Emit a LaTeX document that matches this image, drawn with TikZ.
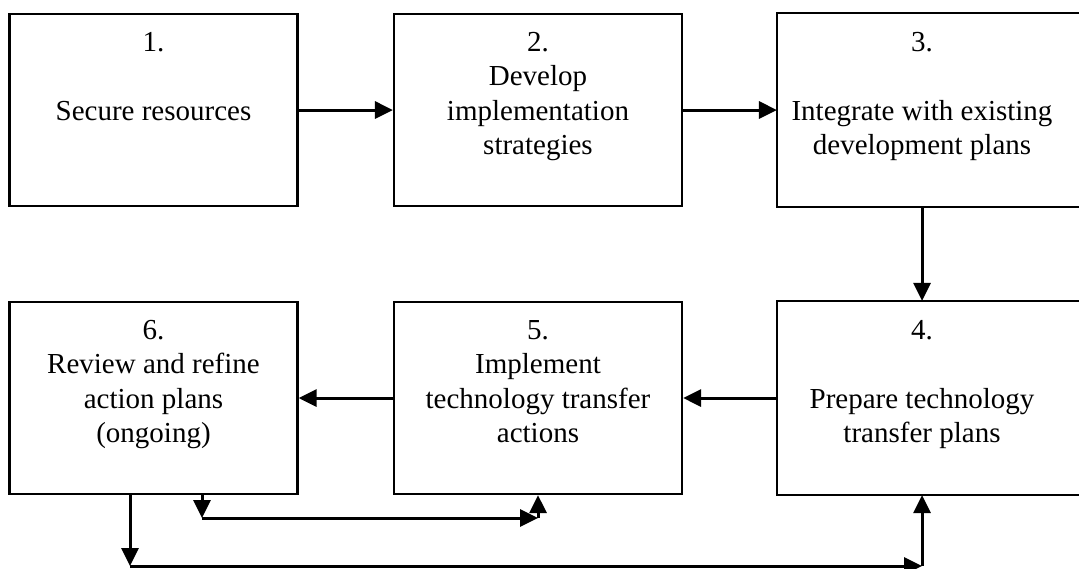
\documentclass[tikz,border=0pt]{standalone}
\usepackage{fontspec}
\setmainfont{Liberation Serif}
\usetikzlibrary{arrows.meta}
\newcommand\boxtext[1]{\parbox[c][166pt][t]{286pt}{\centering\strut #1}}
\begin{document}
\begin{tikzpicture}[x=1pt,y=-1pt,
  box/.style={draw,line width=2.2pt,minimum width=288pt,minimum height=192pt,inner sep=0pt,
    font=\fontsize{29}{34.5}\selectfont},
  openbox/.style={box,draw=none},
  boxline/.style={line width=2.2pt},
  arr/.style={line width=3pt,-{Triangle[length=18pt,width=17pt]}}]
\useasboundingbox (0,0) rectangle (1079,568);
\clip (0,0) rectangle (1079,568);
\fill[white] (0,0) rectangle (1079,568);
% top row
\node[box] (b1) at (153.5,110) {\boxtext{1.\\[34.5pt]Secure resources}};
\node[box] (b2) at (538,110) {\boxtext{2.\\Develop\\implementation\\strategies}};
\node[openbox] (b3) at (922,110) {\boxtext{3.\\[34.5pt]Integrate with existing\\development plans}};
\draw[boxline] ([xshift=40pt]b3.north east) -- (b3.north west) -- (b3.south west) -- ([xshift=40pt]b3.south east);
% bottom row
\node[openbox] (b4) at (922,398) {\boxtext{4.\\[34.5pt]Prepare technology\\transfer plans}};
\draw[boxline] ([xshift=40pt]b4.north east) -- (b4.north west) -- (b4.south west) -- ([xshift=40pt]b4.south east);
\node[box] (b5) at (538,398) {\boxtext{5.\\Implement\\technology transfer\\actions}};
\node[box] (b6) at (153.5,398) {\boxtext{6.\\Review and refine\\action plans\\(ongoing)}};
% connectors
\draw[arr] (b1) -- (b2);
\draw[arr] (b2) -- (b3);
\draw[arr] (b3) -- (b4);
\draw[arr] (b4) -- (b5);
\draw[arr] (b5) -- (b6);
\coordinate (p1) at (202,518);
\coordinate (p2) at (538,518);
\coordinate (q1) at (130,566);
\coordinate (q2) at (922,566);
\draw[arr] (b6.south -| p1) -- (p1);
\draw[arr] (p1) -- (p2);
\draw[arr] (p2) -- (b5.south);
\draw[arr] (b6.south -| q1) -- (q1);
\draw[arr] (q1) -- (q2);
\draw[arr] (q2) -- (b4.south);
\end{tikzpicture}
\end{document}
